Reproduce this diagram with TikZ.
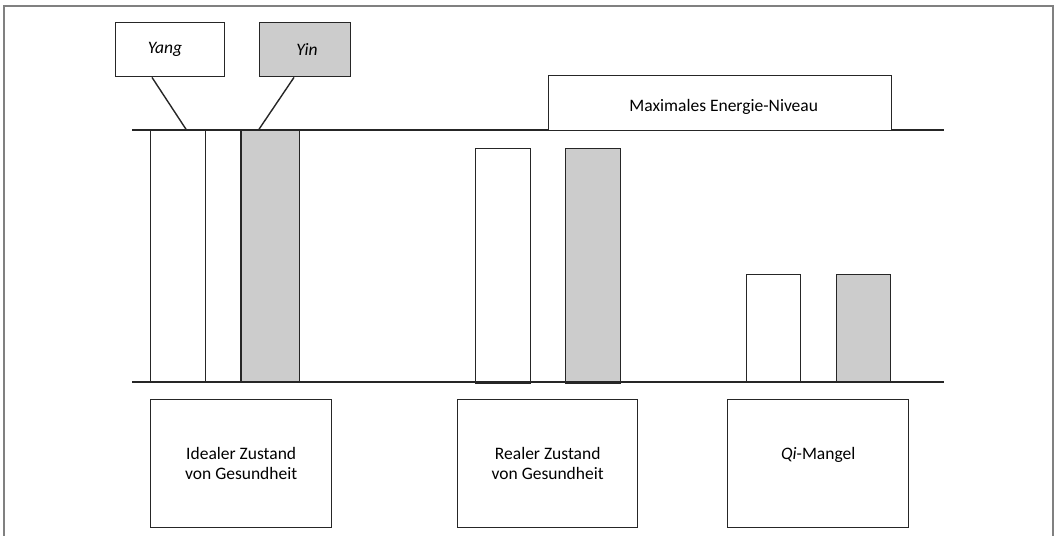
\documentclass[tikz,border=0pt]{standalone}
\usepackage{fontspec}
\setmainfont{Carlito}
\begin{document}
\begin{tikzpicture}[x=1pt,y=-1pt,
  ln/.style={draw=black!85, line width=1.4pt},
  box/.style={ln, inner sep=0pt, anchor=north west, fill=white, align=center,
    font=\fontsize{17.5}{20.5}\selectfont},
  bar/.style={box, fill=white},
  ybar/.style={box, fill=black!20},
  frame/.style={draw=black!50, line width=1.3pt}
]
\useasboundingbox (0,0) rectangle (1056,535);
\draw[frame] (4,540) -- (4,6) -- (1053,6) -- (1053,540);

% level lines
\coordinate (topL) at (132,130);
\coordinate (topR) at (944,130);
\coordinate (botL) at (132,382);
\coordinate (botR) at (944,382);
\draw[ln] (topL) -- (topR);

% ideal state bars
\node[bar, minimum width=55pt, minimum height=252pt] (yangbar) at (150,130) {};
\node[bar, minimum width=35pt, minimum height=252pt, line width=1pt] (midbar) at (205,130) {};
\node[ybar, minimum width=58pt, minimum height=252pt] (yinbar) at (240.5,130) {};

% real state bars
\node[bar, minimum width=55pt, minimum height=235pt] (ryang) at (475,147.5) {};
\node[ybar, minimum width=55pt, minimum height=235pt] (ryin) at (565,147.5) {};

% Qi deficiency bars
\node[bar, minimum width=54pt, minimum height=108pt] (qyang) at (746,274) {};
\node[ybar, minimum width=54pt, minimum height=108pt] (qyin) at (836,274) {};

\draw[ln] (botL) -- (botR);

% maximum level box
\node[box, minimum width=343pt, minimum height=55pt] (max) at (547.5,75) {};
\node[font=\fontsize{17.5}{20.5}\selectfont] (maxlabel) at ([xshift=4pt,yshift=-4pt]max.center) {Maximales Energie-Niveau};

% Yin / Yang labels
\node[box, minimum width=108.5pt, minimum height=54pt] (yang) at (115,22) {\itshape Yang\hspace*{10pt}};
\node[box, fill=black!20, minimum width=91.5pt, minimum height=54pt] (yin) at (258.5,22) {\itshape Yin\hspace*{-4pt}};
\draw[ln] ([xshift=37pt]yang.south west) -- ([xshift=36.5pt]yangbar.north west);
\draw[ln] ([xshift=35.5pt]yin.south west) -- ([xshift=18pt]yinbar.north west);

% bottom boxes
\node[box, minimum width=181pt, minimum height=128pt] (ideal) at (150,399) {Idealer Zustand\\von Gesundheit};
\node[box, minimum width=180pt, minimum height=128pt] (real) at (457,399) {Realer Zustand\\von Gesundheit};
\node[box, minimum width=181pt, minimum height=128pt] (qi) at (727,399) {\textit{Qi}-Mangel\\\mbox{}};
\end{tikzpicture}
\end{document}
